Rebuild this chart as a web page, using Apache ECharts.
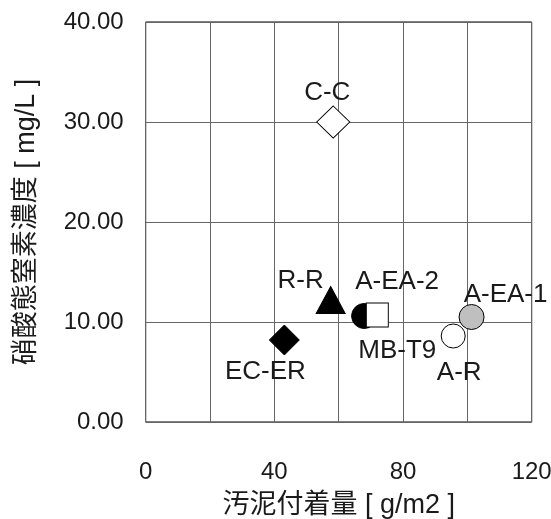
<!DOCTYPE html>
<html><head><meta charset="utf-8">
<script src="https://cdn.jsdelivr.net/npm/echarts@6/dist/echarts.min.js"></script>
<style>html,body{margin:0;padding:0;background:#fff;overflow:hidden}#c{width:551px;height:519px}</style>
</head><body><div id="c"></div>
<script>
var names = ['C-C','R-R','A-EA-2','MB-T9','A-EA-1','A-R','EC-ER'];
var xValues = [58.3, 57.5, 67.9, 72.0, 101.3, 95.6, 43.1];
var yValues = [30.0, 12.2, 10.6, 10.7, 10.5, 8.6, 8.2];
var xTicks = ['0','40','80','120'];
var yTicks = ['0.00','10.00','20.00','30.00','40.00'];

var FONT = '"Liberation Sans", Arial, "Noto Sans CJK JP", sans-serif';
var styles = {
  'C-C':   {symbol:'diamond', size:[33,32], color:'#fff', offset:[-6,-29]},
  'R-R':   {symbol:'triangle', size:[29,27], color:'#000', offset:[-30,-19]},
  'A-EA-2':{symbol:'circle', size:25, color:'#000', offset:[33,-34]},
  'MB-T9': {symbol:'rect', size:[22,24], color:'#fff', offset:[20,36]},
  'A-EA-1':{symbol:'circle', size:25, color:'#bfbfbf', offset:[34,-22]},
  'A-R':   {symbol:'circle', size:24, color:'#fff', offset:[6,37]},
  'EC-ER': {symbol:'diamond', size:[30,30], color:'#000', offset:[-19,32]}
};
var series = names.map(function(n,i){
  var s = styles[n];
  return {
    type:'scatter', name:n, z: (n==='MB-T9'?3:2),
    data:[[xValues[i], yValues[i]]],
    symbol:s.symbol, symbolSize:s.size,
    itemStyle:{color:s.color, borderColor:'#000', borderWidth:1, opacity:1},
    label:{show:true, formatter:n, position:'inside', offset:s.offset,
      color:'#1a1a1a', fontSize:26, fontFamily:FONT},
    emphasis:{disabled:true}, animation:false
  };
});
var chart = echarts.init(document.getElementById('c'));
chart.setOption({
  animation:false,
  grid:{left:145.7, right:19.3, top:22, bottom:97, show:true, borderColor:'#000', borderWidth:1,
    containLabel:false, outerBoundsMode:'none'},
  xAxis:{type:'value', min:0, max:120, interval:20,
    name:'汚泥付着量 [ g/m2 ]', nameLocation:'middle', nameGap:70,
    nameTextStyle:{fontSize:27, color:'#1a1a1a', fontFamily:FONT},
    axisLine:{show:false}, axisTick:{show:false},
    axisLabel:{margin:38, fontSize:24, color:'#1a1a1a', fontFamily:FONT,
      formatter:function(v){var i=xTicks.indexOf(String(v)); return i>=0?xTicks[i]:'';}},
    splitLine:{show:true, lineStyle:{color:'#666', width:1}}},
  yAxis:{type:'value', min:0, max:40, interval:10,
    name:'硝酸態窒素濃度 [ mg/L ]', nameLocation:'middle', nameGap:106,
    nameTextStyle:{fontSize:27, color:'#1a1a1a', fontFamily:FONT},
    axisLine:{show:false}, axisTick:{show:false},
    axisLabel:{margin:22, fontSize:24, color:'#1a1a1a', fontFamily:FONT,
      formatter:function(v){return yTicks[Math.round(v/10)];}},
    splitLine:{show:true, lineStyle:{color:'#666', width:1}}},
  series:series
});
</script></body></html>
